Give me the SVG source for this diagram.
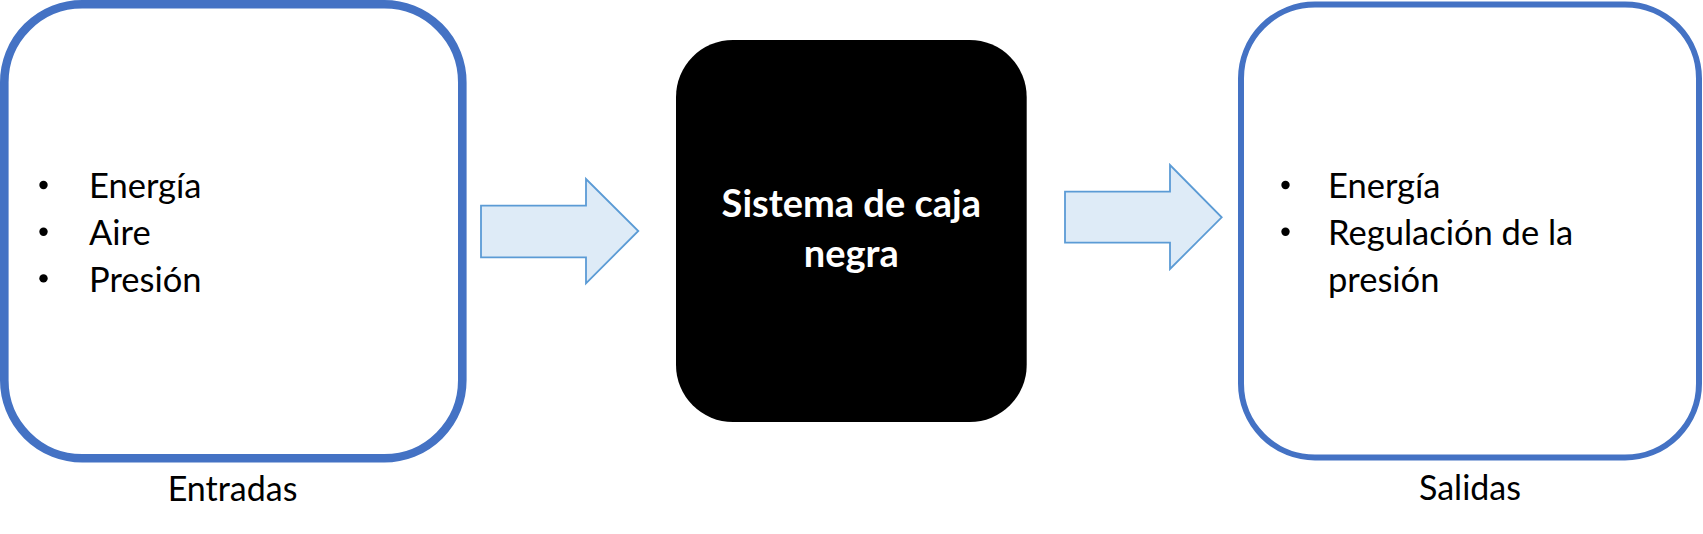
<svg xmlns="http://www.w3.org/2000/svg" width="1703" height="534" viewBox="0 0 1703 534">
<style>
.box{fill:#fff;stroke:#4472C4}
.arr{fill:#DEEBF7;stroke:#5B9BD5;stroke-width:1.8}
.t{font-family:Lato,"Open Sans",sans-serif;font-size:34.5px;fill:#000}
.lbl{font-family:Lato,"Open Sans",sans-serif;font-size:34px;fill:#000}
.b{font-family:Lato,"Open Sans",sans-serif;font-size:38px;font-weight:bold;fill:#fff}
</style>
<rect width="1703" height="534" fill="#fff"/>
<g id="entradas">
<rect class="box" x="4.3" y="4.3" width="458" height="454" rx="78" ry="78" stroke-width="8.6"/>
<circle cx="43.5" cy="185" r="4.2"/>
<circle cx="43.5" cy="231.7" r="4.2"/>
<circle cx="43.5" cy="278.4" r="4.2"/>
<text class="t" x="89" y="198.3">Energía</text>
<text class="t" x="89" y="245">Aire</text>
<text class="t" x="89" y="291.7">Presión</text>
<text class="lbl" x="232.5" y="501" text-anchor="middle">Entradas</text>
</g>
<g id="caja">
<rect x="676" y="40" width="350.7" height="382" rx="57" ry="57" fill="#000"/>
<text class="b" x="851.3" y="217" text-anchor="middle">Sistema de caja</text>
<text class="b" x="851.3" y="267" text-anchor="middle">negra</text>
</g>
<g id="salidas">
<rect class="box" x="1241" y="4.5" width="458" height="453" rx="74" ry="74" stroke-width="6"/>
<circle cx="1285.5" cy="185" r="4.2"/>
<circle cx="1285.5" cy="231.7" r="4.2"/>
<text class="t" x="1328" y="198.3">Energía</text>
<text class="t" x="1328" y="245">Regulación de la</text>
<text class="t" x="1328" y="291.7">presión</text>
<text class="lbl" x="1470" y="500" text-anchor="middle">Salidas</text>
</g>
<g id="connectors">
<polygon class="arr" points="481,205.7 586,205.7 586,179 638.3,231 586,283.3 586,257.3 481,257.3"/>
<polygon class="arr" points="1065,191.7 1170,191.7 1170,165 1221.7,217.3 1170,269 1170,242.7 1065,242.7"/>
</g>
</svg>
